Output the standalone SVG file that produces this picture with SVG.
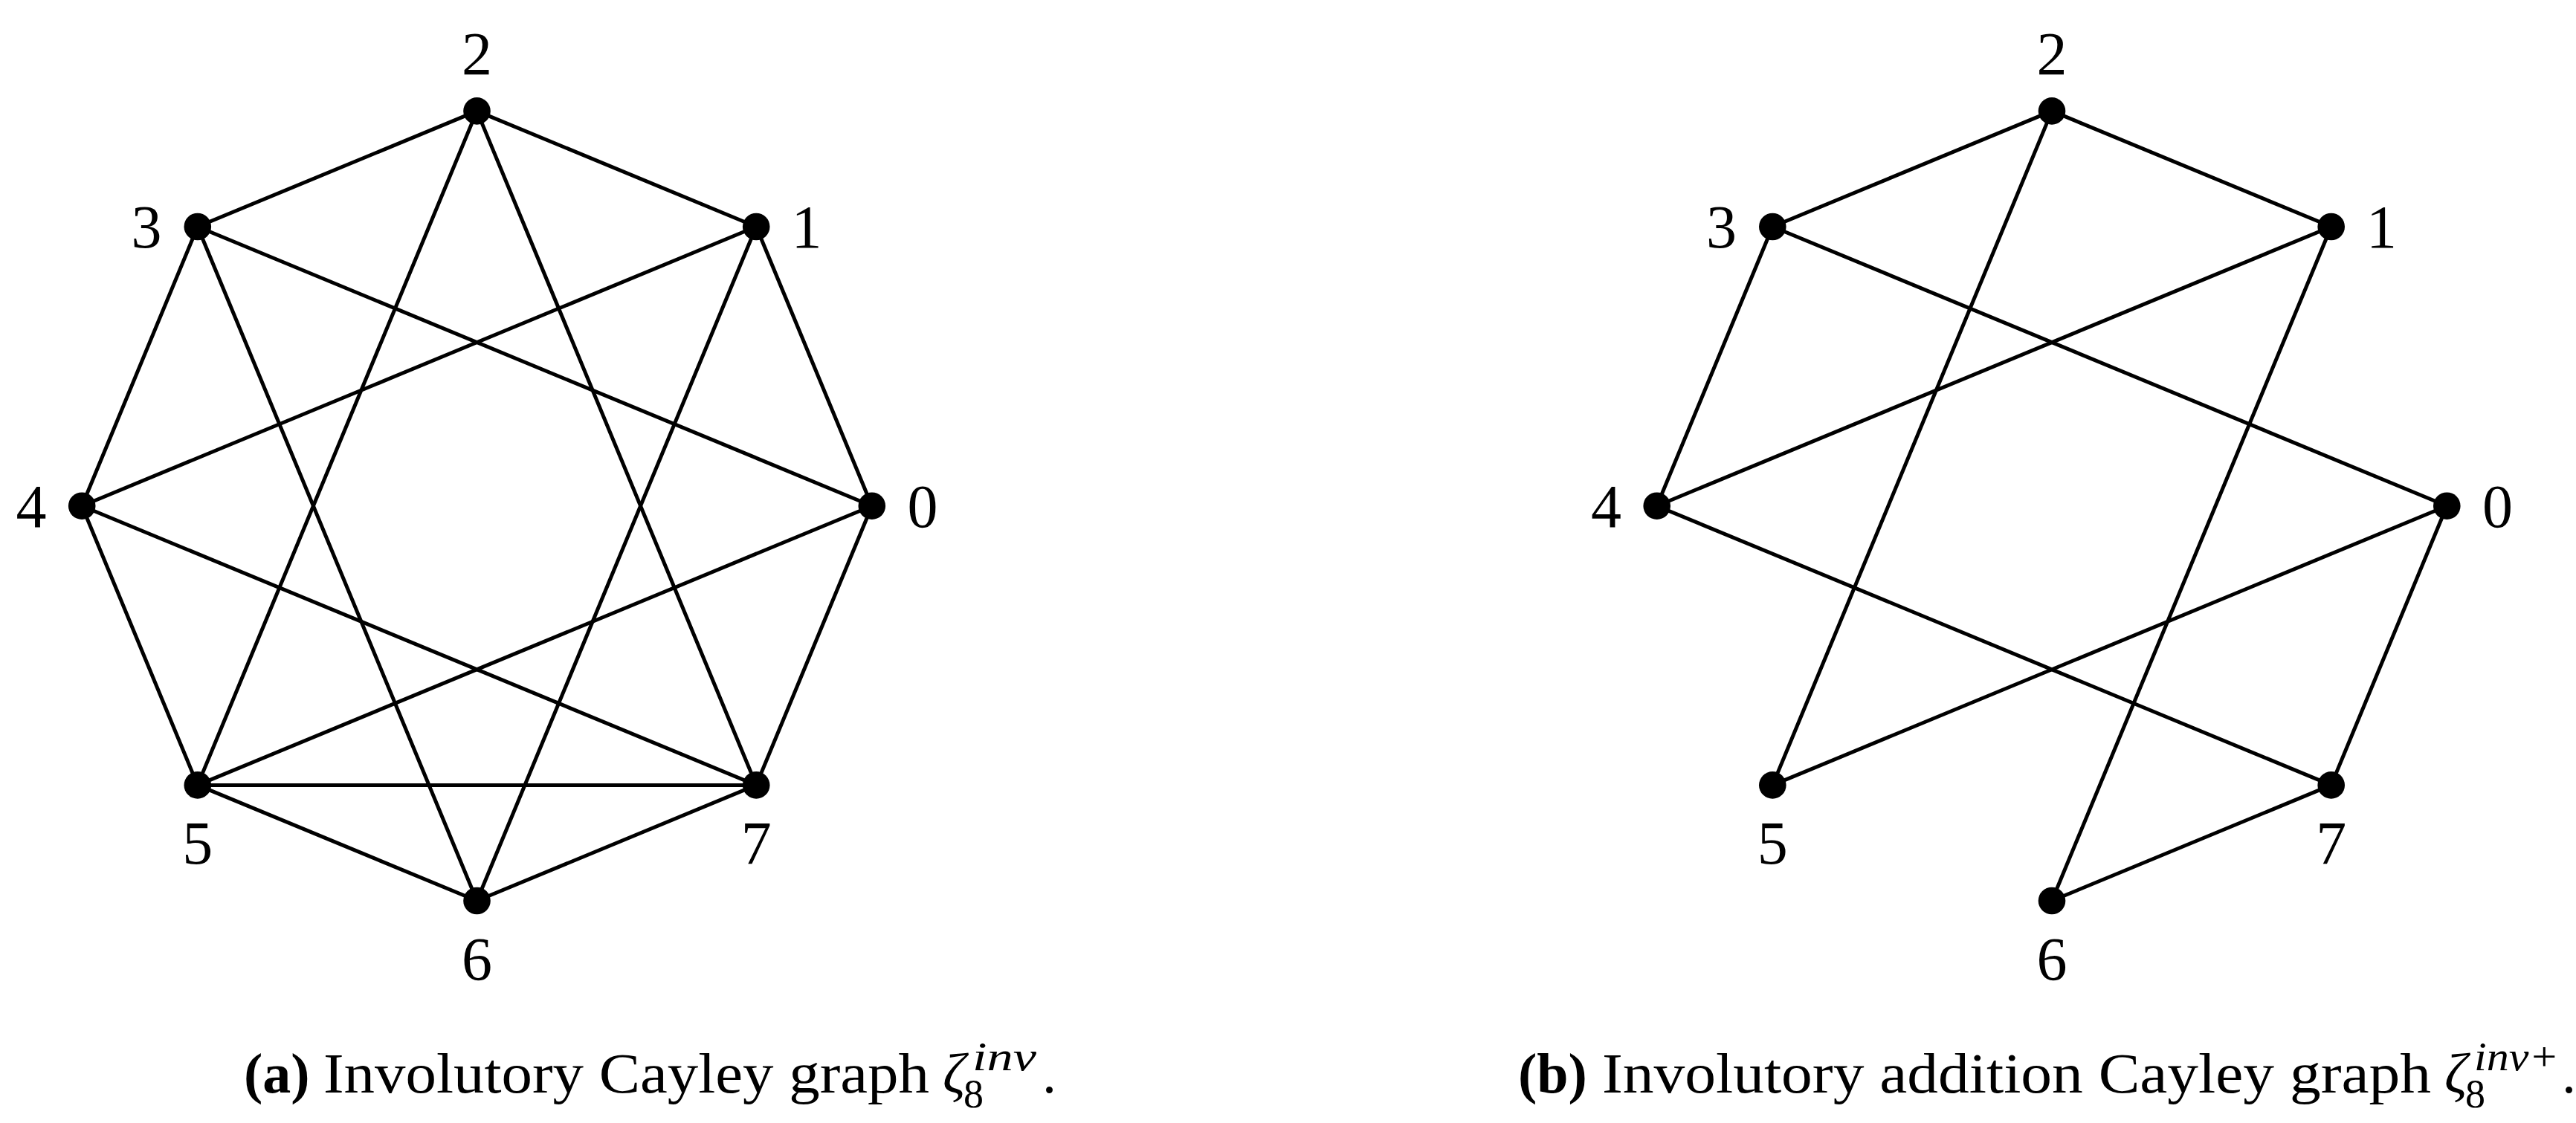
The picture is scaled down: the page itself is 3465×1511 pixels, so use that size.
<svg xmlns="http://www.w3.org/2000/svg" width="3465" height="1511" viewBox="0 0 3465 1511">
<style>
  .e { stroke: #000; stroke-width: 5; fill: none; stroke-linecap: round; }
  .n { fill: #000; }
  .lb { font-family: "Liberation Serif", "DejaVu Serif", serif; font-size: 82px; text-anchor: middle; fill: #000; }
  .cap { font-family: "Liberation Serif", "DejaVu Serif", serif; font-size: 76px; fill: #000; }
  .sc { font-family: "Liberation Serif", "DejaVu Serif", serif; font-size: 54px; fill: #000; }
  .it { font-style: italic; }
  .bd { font-weight: bold; }
</style>
<rect width="3465" height="1511" fill="#fff"/>
<g id="connectors-a">
  <line class="e" x1="641.5" y1="149.4" x2="265.8" y2="305.0"/>
  <line class="e" x1="641.5" y1="149.4" x2="1017.2" y2="305.0"/>
  <line class="e" x1="641.5" y1="149.4" x2="265.8" y2="1056.4"/>
  <line class="e" x1="641.5" y1="149.4" x2="1017.2" y2="1056.4"/>
  <line class="e" x1="265.8" y1="305.0" x2="110.2" y2="680.7"/>
  <line class="e" x1="265.8" y1="305.0" x2="1172.8" y2="680.7"/>
  <line class="e" x1="265.8" y1="305.0" x2="641.5" y2="1212.0"/>
  <line class="e" x1="1017.2" y1="305.0" x2="110.2" y2="680.7"/>
  <line class="e" x1="1017.2" y1="305.0" x2="1172.8" y2="680.7"/>
  <line class="e" x1="1017.2" y1="305.0" x2="641.5" y2="1212.0"/>
  <line class="e" x1="110.2" y1="680.7" x2="265.8" y2="1056.4"/>
  <line class="e" x1="110.2" y1="680.7" x2="1017.2" y2="1056.4"/>
  <line class="e" x1="1172.8" y1="680.7" x2="265.8" y2="1056.4"/>
  <line class="e" x1="1172.8" y1="680.7" x2="1017.2" y2="1056.4"/>
  <line class="e" x1="265.8" y1="1056.4" x2="1017.2" y2="1056.4"/>
  <line class="e" x1="265.8" y1="1056.4" x2="641.5" y2="1212.0"/>
  <line class="e" x1="641.5" y1="1212.0" x2="1017.2" y2="1056.4"/>
</g>
<g id="connectors-b">
  <line class="e" x1="2760.0" y1="149.4" x2="2384.3" y2="305.0"/>
  <line class="e" x1="2760.0" y1="149.4" x2="3135.7" y2="305.0"/>
  <line class="e" x1="2760.0" y1="149.4" x2="2384.3" y2="1056.4"/>
  <line class="e" x1="2384.3" y1="305.0" x2="2228.7" y2="680.7"/>
  <line class="e" x1="2384.3" y1="305.0" x2="3291.3" y2="680.7"/>
  <line class="e" x1="3135.7" y1="305.0" x2="2228.7" y2="680.7"/>
  <line class="e" x1="3135.7" y1="305.0" x2="2760.0" y2="1212.0"/>
  <line class="e" x1="2228.7" y1="680.7" x2="3135.7" y2="1056.4"/>
  <line class="e" x1="3291.3" y1="680.7" x2="2384.3" y2="1056.4"/>
  <line class="e" x1="3291.3" y1="680.7" x2="3135.7" y2="1056.4"/>
  <line class="e" x1="3135.7" y1="1056.4" x2="2760.0" y2="1212.0"/>
</g>
<g id="a-n0"><circle class="n" cx="1172.8" cy="680.7" r="18.3"/><text class="lb" x="1241" y="709">0</text></g>
<g id="a-n1"><circle class="n" cx="1017.2" cy="305.0" r="18.3"/><text class="lb" x="1085" y="333">1</text></g>
<g id="a-n2"><circle class="n" cx="641.5" cy="149.4" r="18.3"/><text class="lb" x="641.5" y="100">2</text></g>
<g id="a-n3"><circle class="n" cx="265.8" cy="305.0" r="18.3"/><text class="lb" x="197" y="333">3</text></g>
<g id="a-n4"><circle class="n" cx="110.2" cy="680.7" r="18.3"/><text class="lb" x="42" y="709">4</text></g>
<g id="a-n5"><circle class="n" cx="265.8" cy="1056.4" r="18.3"/><text class="lb" x="265.8" y="1162">5</text></g>
<g id="a-n6"><circle class="n" cx="641.5" cy="1212.0" r="18.3"/><text class="lb" x="641.5" y="1318">6</text></g>
<g id="a-n7"><circle class="n" cx="1017.2" cy="1056.4" r="18.3"/><text class="lb" x="1017.2" y="1162">7</text></g>
<g id="b-n0"><circle class="n" cx="3291.3" cy="680.7" r="18.3"/><text class="lb" x="3359.5" y="709">0</text></g>
<g id="b-n1"><circle class="n" cx="3135.7" cy="305.0" r="18.3"/><text class="lb" x="3203.5" y="333">1</text></g>
<g id="b-n2"><circle class="n" cx="2760.0" cy="149.4" r="18.3"/><text class="lb" x="2760.0" y="100">2</text></g>
<g id="b-n3"><circle class="n" cx="2384.3" cy="305.0" r="18.3"/><text class="lb" x="2315.5" y="333">3</text></g>
<g id="b-n4"><circle class="n" cx="2228.7" cy="680.7" r="18.3"/><text class="lb" x="2160.5" y="709">4</text></g>
<g id="b-n5"><circle class="n" cx="2384.3" cy="1056.4" r="18.3"/><text class="lb" x="2384.3" y="1162">5</text></g>
<g id="b-n6"><circle class="n" cx="2760.0" cy="1212.0" r="18.3"/><text class="lb" x="2760.0" y="1318">6</text></g>
<g id="b-n7"><circle class="n" cx="3135.7" cy="1056.4" r="18.3"/><text class="lb" x="3135.7" y="1162">7</text></g>
<g id="caption-a">
  <text class="cap bd" x="328" y="1470">(a)</text>
  <text class="cap" x="435" y="1470" textLength="815" lengthAdjust="spacingAndGlyphs">Involutory Cayley graph</text>
  <text class="cap it" x="1268" y="1470">ζ</text>
  <text class="sc" x="1296" y="1490">8</text>
  <text class="sc it" x="1308" y="1440" textLength="86" lengthAdjust="spacingAndGlyphs">inv</text>
  <text class="cap" x="1402" y="1470">.</text>
</g>
<g id="caption-b">
  <text class="cap bd" x="2042" y="1470">(b)</text>
  <text class="cap" x="2155" y="1470" textLength="1115" lengthAdjust="spacingAndGlyphs">Involutory addition Cayley graph</text>
  <text class="cap it" x="3288" y="1470">ζ</text>
  <text class="sc" x="3316" y="1490">8</text>
  <text class="sc it" x="3328" y="1440" textLength="114" lengthAdjust="spacingAndGlyphs">inv+</text>
  <text class="cap" x="3446" y="1470">.</text>
</g>
</svg>
